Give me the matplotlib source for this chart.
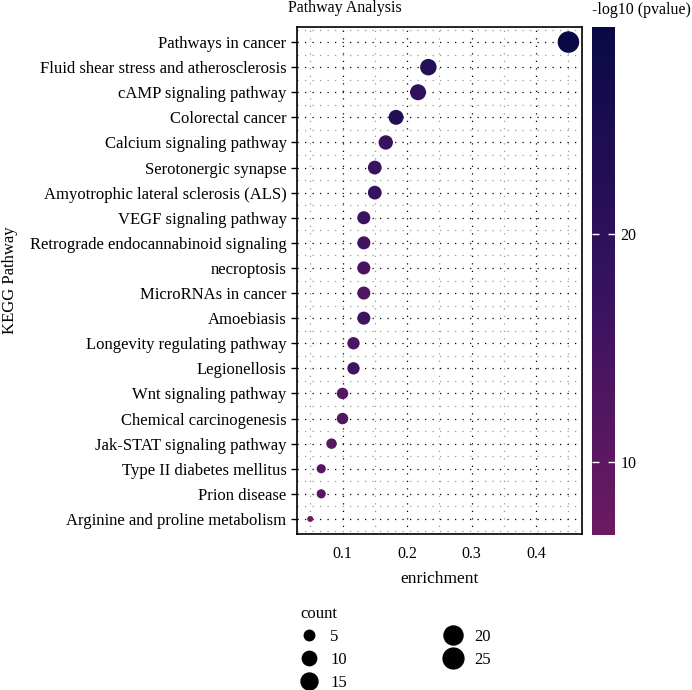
import matplotlib
matplotlib.use("Agg")
import matplotlib.pyplot as plt
import numpy as np
from matplotlib.colors import LinearSegmentedColormap, Normalize
from matplotlib.lines import Line2D

plt.rcParams['font.family'] = ['Liberation Serif', 'DejaVu Serif']

pathways = [
    "Pathways in cancer",
    "Fluid shear stress and atherosclerosis",
    "cAMP signaling pathway",
    "Colorectal cancer",
    "Calcium signaling pathway",
    "Serotonergic synapse",
    "Amyotrophic lateral sclerosis (ALS)",
    "VEGF signaling pathway",
    "Retrograde endocannabinoid signaling",
    "necroptosis",
    "MicroRNAs in cancer",
    "Amoebiasis",
    "Longevity regulating pathway",
    "Legionellosis",
    "Wnt signaling pathway",
    "Chemical carcinogenesis",
    "Jak-STAT signaling pathway",
    "Type II diabetes mellitus",
    "Prion disease",
    "Arginine and proline metabolism",
]
enrichment = [0.450, 0.233, 0.217, 0.183, 0.167, 0.150, 0.150, 0.133, 0.133, 0.133,
              0.133, 0.133, 0.117, 0.117, 0.100, 0.100, 0.083, 0.067, 0.067, 0.050]
count = [27, 14, 13, 11, 10, 9, 9, 8, 8, 8, 8, 8, 7, 7, 6, 6, 5, 4, 4, 3]
neglogp = [29.1, 22.0, 19.5, 22.5, 17.5, 17.0, 18.0, 16.5, 15.5, 14.5,
           12.5, 16.0, 13.5, 16.0, 11.5, 12.5, 11.0, 12.0, 11.5, 6.8]
x_ticks = [0.1, 0.2, 0.3, 0.4]
cbar_ticks = [10, 20]
legend_counts = [5, 10, 15, 20, 25]

cmap = LinearSegmentedColormap.from_list("pv", ["#6C1A62", "#35125F", "#0A0946"])
norm = Normalize(vmin=min(neglogp), vmax=max(neglogp))

cmin, cmax = min(count), max(count)
dmin, dmax = 6.0, 21.5  # pixel diameters


def size_of(c):
    c = np.asarray(c, dtype=float)
    d = dmin + (dmax - dmin) * np.sqrt((c - cmin) / (cmax - cmin))
    return (d * 0.72) ** 2


W, H = 692, 690
fig = plt.figure(figsize=(W / 100, H / 100), dpi=100)
ax = fig.add_axes([297 / W, 1 - 534 / H, (582 - 297) / W, (534 - 27) / H])

n = len(pathways)
ypos = np.arange(n)[::-1]

# grid
for xv in np.arange(0.05, 0.48, 0.05):
    major = abs(round(xv * 10) - xv * 10) < 1e-6
    ax.axvline(xv, color='black' if major else '#9a9a9a', lw=0.9,
               ls=(0, (1, 5)), zorder=0)
for yv in range(n):
    ax.axhline(yv, color='black', lw=0.9, ls=(0, (1, 5)), zorder=0)
for yv in np.arange(-0.5, n, 1.0):
    ax.axhline(yv, color='#9a9a9a', lw=0.9, ls=(0, (1, 5)), zorder=0)

ax.scatter(enrichment, ypos, s=size_of(count), c=neglogp, cmap=cmap, norm=norm,
           edgecolors='none', zorder=3)

ax.set_xlim(0.0295, 0.471)
ax.set_ylim(-0.6, n - 0.4)
ax.set_yticks(ypos)
ax.set_yticklabels(pathways, fontsize=12)
ax.set_xticks(x_ticks)
ax.set_xticklabels([f"{t:.1f}" for t in x_ticks], fontsize=11.5)
ax.tick_params(axis='y', length=4, width=1)
ax.tick_params(axis='x', length=0, pad=9)
for sp in ax.spines.values():
    sp.set_linewidth(1.2)
ax.set_xlabel("enrichment", fontsize=12.5, labelpad=6)
fig.text(10 / W, 1 - 280 / H, "KEGG Pathway", fontsize=12, rotation=90,
         ha='center', va='center')
fig.text(288 / W, 1 - 8 / H, "Pathway Analysis", fontsize=11.5, ha='left', va='center')

# colorbar
cax = fig.add_axes([592 / W, 1 - 535 / H, 23 / W, (535 - 27) / H])
sm = plt.cm.ScalarMappable(norm=norm, cmap=cmap)
cb = fig.colorbar(sm, cax=cax, ticks=cbar_ticks)
cb.outline.set_visible(False)
cax.tick_params(length=5, width=1, color='white', direction='in', labelsize=11.5, pad=4)
cax.yaxis.set_ticks_position('both')
cax.tick_params(labelleft=False, labelright=True)
fig.text(592 / W, 1 - 10 / H, "-log10 (pvalue)", fontsize=11.5, ha='left', va='center')

# size legend
handles = [Line2D([], [], ls='none', marker='o', color='black',
                  markersize=np.sqrt(size_of(c)), label=str(c)) for c in legend_counts]
leg = fig.legend(handles=handles, title="count", loc='upper left',
                 bbox_to_anchor=(289 / W, 1 - 594 / H), ncol=2, frameon=False,
                 fontsize=12, title_fontsize=12, columnspacing=5.9,
                 handlelength=1.0, handletextpad=0.76, labelspacing=0.42,
                 alignment='left', borderaxespad=0.3)

fig.savefig("out.png", dpi=100)
